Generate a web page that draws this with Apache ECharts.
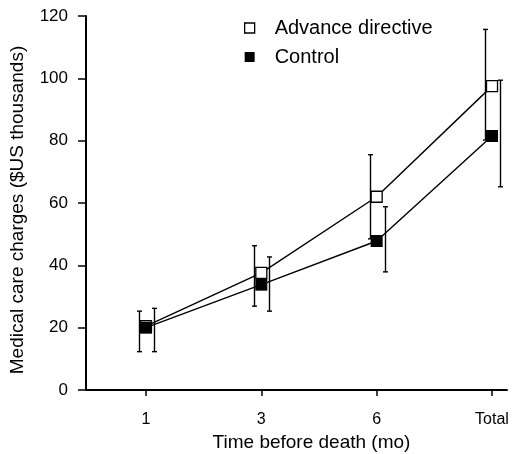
<!DOCTYPE html>
<html>
<head>
<meta charset="utf-8">
<script src="https://cdn.jsdelivr.net/npm/echarts@6/dist/echarts.min.js"></script>
<style>
  html, body { margin: 0; padding: 0; background: #fff; }
  #chart { width: 512px; height: 454px; }
</style>
</head>
<body>
<div id="chart"></div>
<script>
// time before death, one slot per category
const categories = ['1', '3', '6', 'Total'];
const slots = [1, 2, 3, 4];

// Advance directive group (mean, error bar low/high), $US thousands
const advanceMean = [20.5, 37.6, 62.0, 97.5];
const advanceLow = [12.3, 26.9, 48.5, 80.2];
const advanceHigh = [25.3, 46.3, 75.5, 115.7];

// Control group
const controlMean = [20.0, 33.8, 47.8, 81.5];
const controlLow = [12.3, 25.3, 37.9, 65.2];
const controlHigh = [26.2, 42.7, 58.8, 99.4];

const yTicks = [0, 20, 40, 60, 80, 100, 120];

const font = 'Liberation Sans, Arial, sans-serif';

function errorBar(offset) {
    return function (params, api) {
        let x = api.value(0);
        let top = api.coord([x, api.value(2)]);
        let bot = api.coord([x, api.value(1)]);
        let px = Math.round(top[0] + offset) + 0.5;
        let cap = 2.5;
        let style = { stroke: '#000', lineWidth: 1.4 };
        return {
            type: 'group',
            children: [
                { type: 'line', shape: { x1: px, y1: top[1], x2: px, y2: bot[1] }, style: style },
                { type: 'line', shape: { x1: px - cap, y1: top[1], x2: px + cap, y2: top[1] }, style: style },
                { type: 'line', shape: { x1: px - cap, y1: bot[1], x2: px + cap, y2: bot[1] }, style: style }
            ]
        };
    };
}

let chart = echarts.init(document.getElementById('chart'), null, { renderer: 'canvas' });

let option = {
    animation: false,
    backgroundColor: '#fff',
    textStyle: { fontFamily: font, color: '#000' },
    grid: { left: 86, right: 5, top: 16, bottom: 64, outerBoundsMode: 'none', containLabel: false },
    legend: {
        orient: 'vertical',
        left: 239,
        top: 13,
        itemWidth: 10,
        itemHeight: 10,
        itemGap: 9,
        textStyle: { fontFamily: font, fontSize: 20, color: '#000', padding: [0, 0, 0, 15] },
        data: [
            { name: 'Advance directive', icon: 'rect', itemStyle: { color: '#fff', borderColor: '#000', borderWidth: 1.3 } },
            { name: 'Control', icon: 'rect', itemStyle: { color: '#000', borderWidth: 0 } }
        ]
    },
    xAxis: {
        type: 'value',
        min: 0.48,
        max: 4.13,
        name: 'Time before death (mo)',
        nameLocation: 'middle',
        nameGap: 41,
        nameTextStyle: { fontFamily: font, fontSize: 19, color: '#000', padding: [0, 0, 0, 30] },
        axisLine: { show: true, onZero: false, lineStyle: { color: '#000', width: 2 } },
        axisTick: { show: true, customValues: slots, length: 6, lineStyle: { color: '#000', width: 1.5 } },
        axisLabel: {
            customValues: slots,
            margin: 22,
            fontFamily: font,
            fontSize: 16,
            color: '#000',
            formatter: v => categories[Math.round(v) - 1]
        },
        splitLine: { show: false }
    },
    yAxis: {
        type: 'value',
        min: 0,
        max: 120,
        interval: 20,
        name: 'Medical care charges ($US thousands)',
        nameLocation: 'middle',
        nameGap: 59,
        nameTextStyle: { fontFamily: font, fontSize: 19, color: '#000', padding: [0, 14, 0, 0] },
        axisLine: { show: true, lineStyle: { color: '#000', width: 2 } },
        axisTick: { show: true, length: 8, lineStyle: { color: '#000', width: 1.5 } },
        axisLabel: {
            margin: 18,
            fontFamily: font,
            fontSize: 17,
            color: '#000',
            formatter: v => yTicks.includes(v) ? String(v) : ''
        },
        splitLine: { show: false }
    },
    series: [
        {
            type: 'custom',
            name: 'advErr',
            renderItem: errorBar(-7),
            encode: { x: 0, y: [1, 2] },
            data: slots.map((s, i) => [s, advanceLow[i], advanceHigh[i]]),
            z: 1
        },
        {
            type: 'custom',
            name: 'ctlErr',
            renderItem: errorBar(8),
            encode: { x: 0, y: [1, 2] },
            data: slots.map((s, i) => [s, controlLow[i], controlHigh[i]]),
            z: 1
        },
        {
            type: 'line',
            name: 'Advance directive',
            data: slots.map((s, i) => [s, advanceMean[i]]),
            symbol: 'rect',
            symbolSize: 11,
            lineStyle: { color: '#000', width: 1.4 },
            itemStyle: { color: '#fff', borderColor: '#000', borderWidth: 1.3 },
            z: 3
        },
        {
            type: 'line',
            name: 'Control',
            data: slots.map((s, i) => [s, controlMean[i]]),
            symbol: 'rect',
            symbolSize: 12,
            lineStyle: { color: '#000', width: 1.4 },
            itemStyle: { color: '#000', borderWidth: 0 },
            z: 4
        }
    ]
};

chart.setOption(option);
</script>
</body>
</html>
